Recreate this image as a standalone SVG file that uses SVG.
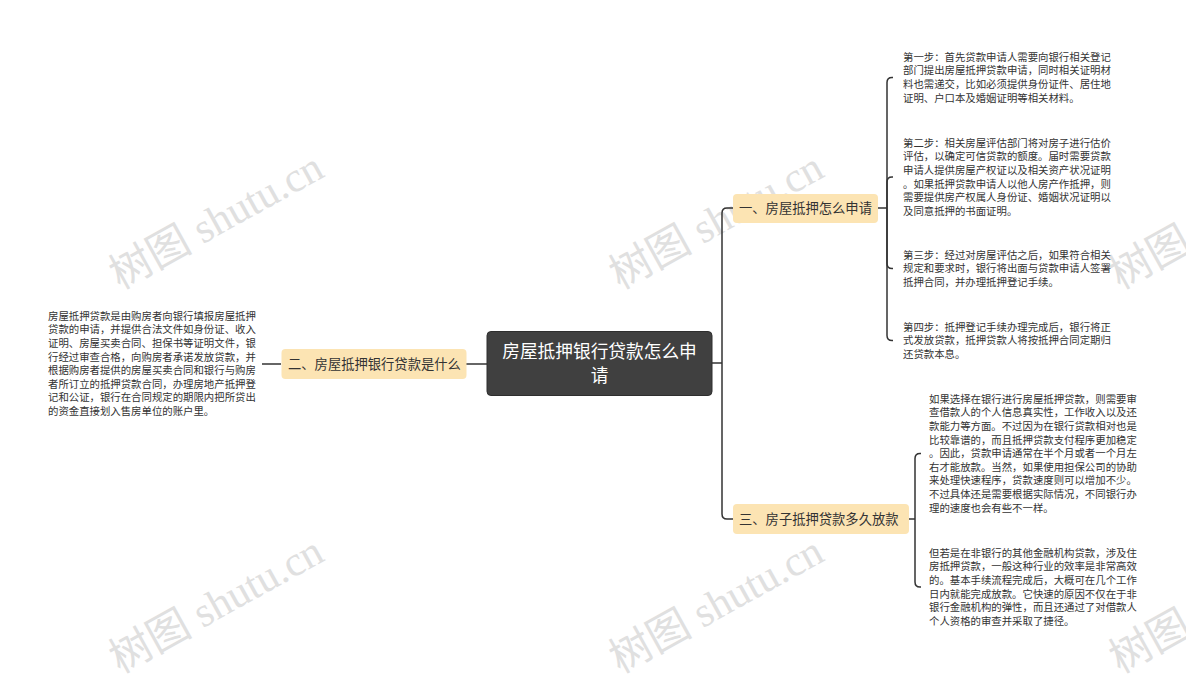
<svg xmlns="http://www.w3.org/2000/svg" width="1186" height="675" viewBox="0 0 1186 675">
<style>
.bg{fill:#ffffff}
.wm{font-family:"Liberation Serif","Noto Sans CJK SC",serif;font-size:42px;fill:#e0e0e0;}
.conn{fill:none;stroke:#333333;stroke-width:1.5}
.root rect{fill:#404040;stroke:#2e2e2e;stroke-width:1}
.root text{font-family:"Noto Sans CJK SC",sans-serif;font-size:17.7px;fill:#ffffff;text-anchor:middle}
.sub rect{fill:#fce4b3}
.sub text{font-family:"Noto Sans CJK SC",sans-serif;font-size:13.3px;fill:#333333}
.leaf text{font-family:"Noto Sans CJK SC",sans-serif;font-size:10.4px;fill:#333333}
</style>
<rect class="bg" x="0" y="0" width="1186" height="675"/>
<g id="watermarks">
<text class="wm" transform="translate(120,290) rotate(-29)">树图 shutu.cn</text>
<text class="wm" transform="translate(620,290) rotate(-29)">树图 shutu.cn</text>
<text class="wm" transform="translate(1120,290) rotate(-29)">树图 shutu.cn</text>
<text class="wm" transform="translate(120,674) rotate(-29)">树图 shutu.cn</text>
<text class="wm" transform="translate(620,674) rotate(-29)">树图 shutu.cn</text>
<text class="wm" transform="translate(1120,674) rotate(-29)">树图 shutu.cn</text>
</g>
<g id="connectors">
<path class="conn" d="M712,363 H722"/>
<path class="conn" d="M722,363 V213 Q722,208 727,208 H733"/>
<path class="conn" d="M722,363 V514 Q722,519 727,519 H733"/>
<path class="conn" d="M466,364 H487"/>
<path class="conn" d="M262,364 H281"/>
<path class="conn" d="M878,208 H887"/>
<path class="conn" d="M887,208 V82.4 Q887,77.4 892,77.4 H893"/>
<path class="conn" d="M887,208 V182 Q887,177 892,177 H893"/>
<path class="conn" d="M887,208 V263.6 Q887,268.6 892,268.6 H893"/>
<path class="conn" d="M887,208 V335.6 Q887,340.6 892,340.6 H893"/>
<path class="conn" d="M909,519 H915"/>
<path class="conn" d="M915,519 V458.4 Q915,453.4 920,453.4 H921"/>
<path class="conn" d="M915,519 V582 Q915,587 920,587 H921"/>
</g>
<g id="root" class="root">
<rect x="487" y="331.5" width="225" height="64" rx="4"/>
<text x="599.5" y="358">房屋抵押银行贷款怎么申</text>
<text x="599.5" y="382">请</text>
</g>
<g id="node-1" class="sub">
<rect x="733" y="194" width="145" height="29" rx="4"/>
<text x="739" y="213">一、房屋抵押怎么申请</text>
</g>
<g id="node-2" class="sub">
<rect x="281.5" y="349" width="185" height="30" rx="4"/>
<text x="288" y="368.5">二、房屋抵押银行贷款是什么</text>
</g>
<g id="node-3" class="sub">
<rect x="733" y="504" width="176" height="30" rx="4"/>
<text x="739" y="523.5">三、房子抵押贷款多久放款</text>
</g>
<g id="leaf-step1" class="leaf">
<text x="903" y="60.7">第一步：首先贷款申请人需要向银行相关登记</text>
<text x="903" y="74.3">部门提出房屋抵押贷款申请，同时相关证明材</text>
<text x="903" y="87.9">料也需递交，比如必须提供身份证件、居住地</text>
<text x="903" y="101.5">证明、户口本及婚姻证明等相关材料。</text>
</g>
<g id="leaf-step2" class="leaf">
<text x="903" y="146.7">第二步：相关房屋评估部门将对房子进行估价</text>
<text x="903" y="160.3">评估，以确定可信贷款的额度。届时需要贷款</text>
<text x="903" y="173.9">申请人提供房屋产权证以及相关资产状况证明</text>
<text x="903" y="187.5">。如果抵押贷款申请人以他人房产作抵押，则</text>
<text x="903" y="201.1">需要提供房产权属人身份证、婚姻状况证明以</text>
<text x="903" y="214.7">及同意抵押的书面证明。</text>
</g>
<g id="leaf-step3" class="leaf">
<text x="903" y="258.7">第三步：经过对房屋评估之后，如果符合相关</text>
<text x="903" y="272.3">规定和要求时，银行将出面与贷款申请人签署</text>
<text x="903" y="285.9">抵押合同，并办理抵押登记手续。</text>
</g>
<g id="leaf-step4" class="leaf">
<text x="903" y="330.7">第四步：抵押登记手续办理完成后，银行将正</text>
<text x="903" y="344.3">式发放贷款，抵押贷款人将按抵押合同定期归</text>
<text x="903" y="357.9">还贷款本息。</text>
</g>
<g id="leaf-bank" class="leaf">
<text x="929" y="402.7">如果选择在银行进行房屋抵押贷款，则需要审</text>
<text x="929" y="416.3">查借款人的个人信息真实性，工作收入以及还</text>
<text x="929" y="429.9">款能力等方面。不过因为在银行贷款相对也是</text>
<text x="929" y="443.5">比较靠谱的，而且抵押贷款支付程序更加稳定</text>
<text x="929" y="457.1">。因此，贷款申请通常在半个月或者一个月左</text>
<text x="929" y="470.7">右才能放款。当然，如果使用担保公司的协助</text>
<text x="929" y="484.3">来处理快速程序，贷款速度则可以增加不少。</text>
<text x="929" y="497.9">不过具体还是需要根据实际情况，不同银行办</text>
<text x="929" y="511.5">理的速度也会有些不一样。</text>
</g>
<g id="leaf-nonbank" class="leaf">
<text x="929" y="556.7">但若是在非银行的其他金融机构贷款，涉及住</text>
<text x="929" y="570.3">房抵押贷款，一般这种行业的效率是非常高效</text>
<text x="929" y="583.9">的。基本手续流程完成后，大概可在几个工作</text>
<text x="929" y="597.5">日内就能完成放款。它快速的原因不仅在于非</text>
<text x="929" y="611.1">银行金融机构的弹性，而且还通过了对借款人</text>
<text x="929" y="624.7">个人资格的审查并采取了捷径。</text>
</g>
<g id="leaf-what" class="leaf">
<text x="48" y="319.7">房屋抵押贷款是由购房者向银行填报房屋抵押</text>
<text x="48" y="333.3">贷款的申请，并提供合法文件如身份证、收入</text>
<text x="48" y="346.9">证明、房屋买卖合同、担保书等证明文件，银</text>
<text x="48" y="360.5">行经过审查合格，向购房者承诺发放贷款，并</text>
<text x="48" y="374.1">根据购房者提供的房屋买卖合同和银行与购房</text>
<text x="48" y="387.7">者所订立的抵押贷款合同，办理房地产抵押登</text>
<text x="48" y="401.3">记和公证，银行在合同规定的期限内把所贷出</text>
<text x="48" y="414.9">的资金直接划入售房单位的账户里。</text>
</g>
</svg>
